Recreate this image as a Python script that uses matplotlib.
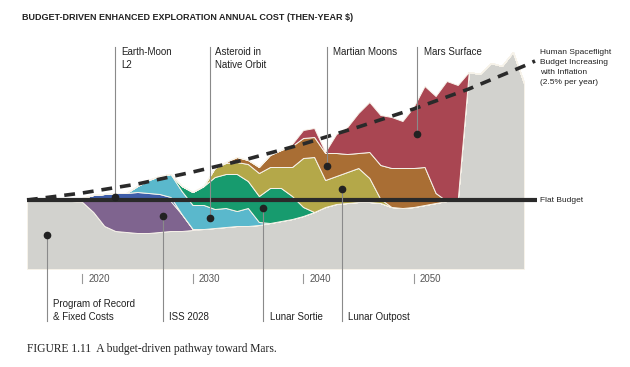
import numpy as np
import matplotlib.pyplot as plt

plt.rcParams['font.family'] = ['Liberation Sans', 'DejaVu Sans']

# ---- data (arbitrary units, flat budget = 69) ----
years = np.arange(2015, 2061)

program_of_record = [68, 68, 68, 68, 68, 67, 57, 43, 38, 37, 36, 36, 37, 38, 38,
                     39, 40, 41, 42, 43, 43, 44, 46, 48, 50, 53, 57, 62, 65, 66,
                     67, 67, 66, 62, 61, 62, 64, 66, 68, 69, 197, 195, 206, 203, 217, 186]
iss_2028 = [0, 0, 0, 0, 0, 1, 12, 26, 31, 32, 33, 33, 32, 30, 17, 1] + [0] * 30
earth_moon = [0, 0, 0, 0, 0, 3, 5, 6, 7, 7, 8, 7, 6, 4] + [0] * 32
asteroid = [0] * 10 + [6, 13, 18, 23, 23, 24, 24, 19, 19, 15, 18, 3] + [0] * 24
lunar_sortie = [0] * 14 + [5, 13, 19, 32, 34, 37, 27, 26, 35, 33, 23, 9] + [0] * 20
lunar_outpost = [0] * 17 + [9, 11, 12, 17, 23, 21, 21, 29, 49, 55, 27, 28, 31, 34, 24, 4] + [0] * 13
martian_moons = [0] * 18 + [1, 5, 4, 6, 12, 17, 21, 20, 20, 27, 23, 18, 15, 26, 34,
                            39, 40, 39, 38, 10] + [0] * 8
mars_surface = [0] * 24 + [2, 8, 9, 1, 19, 27, 40, 50, 50, 51, 47, 61, 81, 97, 120, 115] + [0] * 6

flat_budget = 69
inflation_years = [2015, 2020, 2025, 2030, 2035, 2040, 2045, 2050, 2055, 2060, 2061]
inflation_budget = [69, 76, 85, 97, 110, 125, 142, 160, 180, 203, 208]

layers = [program_of_record, iss_2028, earth_moon, asteroid,
          lunar_sortie, lunar_outpost, martian_moons, mars_surface]
colors = ['#d2d2ce', '#7f648f', '#3f5ea9', '#5ab8cc', '#179b6e',
          '#b4a849', '#a96e34', '#a94652']
tick_years = [2020, 2030, 2040, 2050]

# ---- layout: axes cover the whole figure, pixel <-> data helpers ----
W, H = 630, 367
X0, PXY, Y0 = 27, 11.044, 269


def year_at(x):
    return 2015 + (x - X0) / PXY


def val_at(y):
    return Y0 - y


def fxy(x, y):
    return x / W, 1 - y / H


fig = plt.figure(figsize=(W / 100, H / 100), dpi=100)
ax = fig.add_axes([0, 0, 1, 1])
ax.set_xlim(year_at(0), year_at(W))
ax.set_ylim(val_at(H), val_at(0))
ax.axis('off')

ax.stackplot(years, *layers, colors=colors, edgecolor='#f7f3ea', linewidth=0.7)
tops = np.cumsum(np.array(layers, dtype=float), axis=0)
bottoms = np.vstack([np.zeros(len(years)), tops[:-1]])


def layer_mid(i, yr):
    return (np.interp(yr, years, bottoms[i]) + np.interp(yr, years, tops[i])) / 2

# flat budget and inflation budget
ax.plot([2015, year_at(537)], [flat_budget, flat_budget], color='#2a2a2a', lw=3, zorder=5,
        solid_capstyle='butt')
ax.plot(inflation_years, inflation_budget, color='#2a2a2a', lw=2.6, ls=(0, (3, 2.2)), zorder=5)

# leader lines with dots: (layer index, leader x px, end y px)
leaders = [(2, 115, 47), (3, 210, 47), (6, 327, 47), (7, 417, 47),
           (0, 47, 321), (1, 163, 321), (4, 263, 321), (5, 342, 321)]
for i, x, yend in leaders:
    yr = year_at(x)
    v = layer_mid(i, yr)
    ax.plot([yr, yr], [v, val_at(yend)], color='#8a8a8a', lw=0.8, zorder=6)
    ax.plot(yr, v, 'o', color='#222222', ms=4.5, zorder=7)

label_kw = dict(fontsize=7, color='#222222', linespacing=1.35)
top_labels = [('Earth-Moon\nL2', 121), ('Asteroid in\nNative Orbit', 215),
              ('Martian Moons', 333), ('Mars Surface', 424)]
for s, x in top_labels:
    fig.text(*fxy(x, 47), s, va='top', ha='left', **label_kw)
bottom_labels = [('Program of Record\n& Fixed Costs', 53), ('ISS 2028', 169),
                 ('Lunar Sortie', 270), ('Lunar Outpost', 348)]
for s, x in bottom_labels:
    fig.text(*fxy(x, 322), s, va='bottom', ha='left', **label_kw)

fig.text(*fxy(540, 49.5), 'Human Spaceflight\nBudget Increasing\nwith Inflation\n(2.5% per year)',
         va='top', ha='left', fontsize=6, color='#222222', linespacing=1.6)
fig.text(*fxy(540, 200), 'Flat Budget', va='center', ha='left', fontsize=6, color='#222222')

# year ticks
for yr in tick_years:
    ax.plot([yr, yr], [val_at(274), val_at(283)], color='#999999', lw=0.8)
    ax.text(yr + 0.55, val_at(279), str(yr), va='center', ha='left', fontsize=7, color='#555555')

fig.text(*fxy(22, 17), 'BUDGET-DRIVEN ENHANCED EXPLORATION ANNUAL COST (THEN-YEAR $)',
         va='center', ha='left', fontsize=6.5, fontweight='bold', color='#222222')
fig.text(*fxy(27, 349), 'FIGURE 1.11  A budget-driven pathway toward Mars.',
         va='center', ha='left', fontsize=8.3, family='Liberation Serif', color='#222222')

fig.savefig('out.png', dpi=100)
